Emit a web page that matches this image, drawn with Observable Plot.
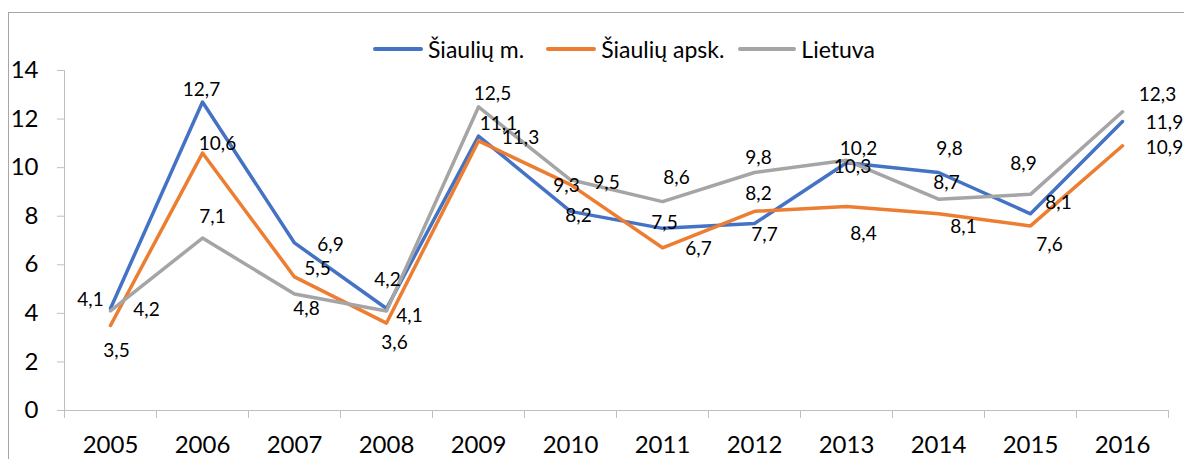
<!DOCTYPE html>
<html>
<head>
<meta charset="utf-8">
<script src="https://cdn.jsdelivr.net/npm/d3@7"></script>
<script src="https://cdn.jsdelivr.net/npm/@observablehq/plot@0.6"></script>
<style>
  html, body { margin: 0; padding: 0; background: #fff; }
  #wrap { position: relative; width: 1184px; height: 459px; overflow: hidden; font-family: Lato, "Open Sans", sans-serif; }
  #border { position: absolute; left: 8px; top: 12px; width: 1200px; height: 480px; border: 1px solid #A6A6A6; box-sizing: border-box; }
  #legend { position: absolute; left: 373px; top: 35px; display: flex; align-items: center; font-size: 23px; color: #000; white-space: nowrap; }
  #legend .item { display: flex; align-items: center; }
  #legend .sw { width: 50px; height: 4px; border-radius: 2px; margin-right: 5px; }
  #chart { position: absolute; left: 0; top: 0; }
</style>
</head>
<body>
<div id="wrap">
  <div id="border"></div>
  <div id="chart"></div>
  <div id="legend"></div>
</div>
<script>
const years = [2005, 2006, 2007, 2008, 2009, 2010, 2011, 2012, 2013, 2014, 2015, 2016];
const seriesNames = ["Šiaulių m.", "Šiaulių apsk.", "Lietuva"];
const siauliuM = [4.2, 12.7, 6.9, 4.2, 11.3, 8.2, 7.5, 7.7, 10.2, 9.8, 8.1, 11.9];
const siauliuApsk = [3.5, 10.6, 5.5, 3.6, 11.1, 9.3, 6.7, 8.2, 8.4, 8.1, 7.6, 10.9];
const lietuva = [4.1, 7.1, 4.8, 4.1, 12.5, 9.5, 8.6, 9.8, 10.3, 8.7, 8.9, 12.3];
const yTicks = [0, 2, 4, 6, 8, 10, 12, 14];

// styling (not data)
const colors = ["#4472C4", "#ED7D31", "#A5A5A5"];
const legendGaps = [22, 14, 0];
const legendSwatchWidths = [50, 50, 58];
const labelOffsets = [
  [[36,1],[-1,-12],[36,2],[1,-29],[42,1.5],[8,5],[2,-5],[10,11],[12,-14],[11,-24],[28,-11],[42,1]],
  [[6,25],[15,-9.5],[23,-8],[8,20],[20,-17],[-4,1],[36,1],[4,-17],[17,27],[25,13],[19,19],[42,2]],
  [[-20,-11],[10,-21],[12,15],[23,5],[14,-13],[36,3],[14,-24],[4,-15],[6,7],[8,-16],[-7,-30],[35,-17]]
];

const valuesBySeries = [siauliuM, siauliuApsk, lietuva];
const rows = [];
valuesBySeries.forEach((vals, s) => {
  vals.forEach((v, i) => rows.push({series: seriesNames[s], si: s, i, year: years[i], value: v}));
});
const fmt = v => v.toFixed(1).replace(".", ",");
const boundaries = [...years.map(y => y - 0.5), years[years.length - 1] + 0.5];

const labelMarks = rows.map(d => Plot.text([d], {
  x: "year", y: "value", text: r => fmt(r.value),
  dx: labelOffsets[d.si][d.i][0], dy: labelOffsets[d.si][d.i][1],
  fontSize: 19, fill: "#000"
}));

const chart = Plot.plot({
  width: 1184,
  height: 459,
  marginLeft: 64,
  marginRight: 16,
  marginTop: 70,
  marginBottom: 49,
  style: {fontFamily: "Lato, 'Open Sans', sans-serif", background: "transparent"},
  x: {domain: [years[0] - 0.5, years[years.length - 1] + 0.5]},
  y: {domain: [0, 14]},
  color: {domain: seriesNames, range: colors},
  marks: [
    Plot.ruleX([boundaries[0]], {y1: 0, y2: 14, stroke: "#BFBFBF"}),
    Plot.ruleY([0], {stroke: "#BFBFBF"}),
    Plot.axisY({ticks: yTicks, tickSize: 7, tickPadding: 19, stroke: "#BFBFBF", fontSize: 24, color: "#000", label: null, tickFormat: d => String(d)}),
    Plot.axisX({ticks: boundaries, tickSize: 8, stroke: "#BFBFBF", tickFormat: () => "", label: null}),
    Plot.axisX({ticks: years, tickSize: 0, tickPadding: 25, fontSize: 24, color: "#000", label: null, tickFormat: d => String(d)}),
    Plot.line(rows, {x: "year", y: "value", z: "series", stroke: "series", strokeWidth: 3.5, strokeLinejoin: "round"}),
    ...labelMarks
  ]
});
document.getElementById("chart").appendChild(chart);

const legend = document.getElementById("legend");
seriesNames.forEach((n, i) => {
  const item = document.createElement("div");
  item.className = "item";
  item.style.marginRight = legendGaps[i] + "px";
  const sw = document.createElement("div");
  sw.className = "sw";
  sw.style.background = colors[i];
  sw.style.width = legendSwatchWidths[i] + "px";
  const t = document.createElement("span");
  t.textContent = n;
  item.appendChild(sw);
  item.appendChild(t);
  legend.appendChild(item);
});
</script>
</body>
</html>
